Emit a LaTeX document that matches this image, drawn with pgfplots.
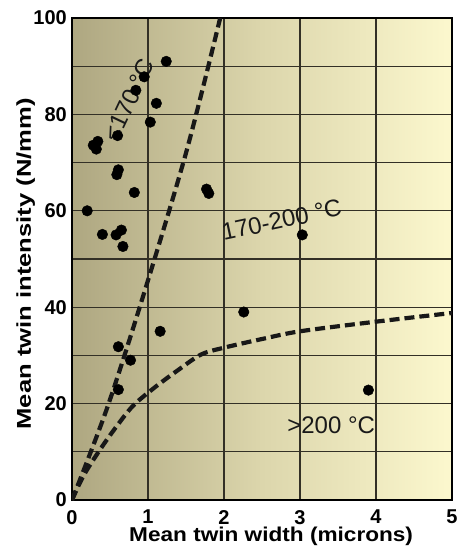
\documentclass[border=0pt]{standalone}
\usepackage{fontspec}
\setmainfont{Liberation Sans}
\usepackage{graphicx}
\usepackage{pgfplots}
\pgfplotsset{compat=1.18}

\definecolor{bgleft}{HTML}{AEA781}
\definecolor{bgmid}{HTML}{DCD6AC}
\definecolor{bgright}{HTML}{FCF8CE}
\definecolor{gridc}{HTML}{333026}
\definecolor{dashc}{HTML}{181818}

\begin{document}
\begin{tikzpicture}
\begin{axis}[
    name=ax,
    scale only axis,
    width=380pt, height=482pt,
    xmin=0, xmax=5, ymin=0, ymax=100,
    xtick={0,1,...,5},
    ytick={0,20,...,100},
    minor ytick={10,30,...,90},
    grid=both,
    major grid style={gridc, line width=1.3pt},
    minor grid style={gridc, line width=1.3pt},
    major tick length=0pt, minor tick length=0pt,
    axis line style={black, line width=1.8pt},
    axis background/.style={left color=bgleft, right color=bgright, middle color=bgmid},
    /pgf/number format/assume math mode=true,
    ticklabel style={font=\fontsize{20}{20}\selectfont\bfseries, inner sep=0pt},
    xticklabel style={yshift=-10pt},
    yticklabel style={xshift=-5pt},
    xlabel={\scalebox{1.13}[1]{Mean twin width (microns)}},
    ylabel={\scalebox{1.28}[1]{Mean twin intensity (N/mm)}},
    label style={font=\fontsize{20}{20}\selectfont\bfseries},
    xlabel style={at={(axis description cs:0.524,-0.0865)}, anchor=base},
    ylabel style={at={(axis description cs:-0.108,0.49)}, anchor=base, rotate=0},
]
% boundary lines
\addplot[dashc, line width=4.2pt, dash pattern=on 10pt off 5pt, smooth] coordinates {
    (0,0) (0.46,19) (0.93,42) (1.5,72) (1.95,100)
};
\addplot[dashc, line width=4.2pt, dash pattern=on 10pt off 5pt, smooth] coordinates {
    (0,0) (0.15,5) (0.35,10) (0.55,14.5) (0.8,19.5) (1.1,23.5) (1.4,27)
    (1.7,30.2) (2,31.6) (2.5,33.4) (3,35) (4,37) (5,38.8)
};
% measurements
\addplot[only marks, mark=*, mark size=5.3pt, black] coordinates {
    (0.20,60) (0.28,73.6) (0.34,74.4) (0.32,72.8)
    (0.60,75.6) (0.59,67.5) (0.61,68.5) (0.82,63.8)
    (0.40,55.1) (0.58,55.0) (0.65,56.0) (0.67,52.6)
    (0.84,85.0) (0.95,87.8) (1.11,82.3) (1.03,78.4) (1.24,91.0)
    (1.77,64.5) (1.80,63.6)
    (3.03,55.0) (2.26,39.0) (3.90,22.8)
    (1.16,35.0) (0.61,31.8) (0.77,29.0) (0.61,22.9)
};
\node[font=\fontsize{24}{24}\selectfont, text=black!90, rotate=64.6] at (axis cs:0.75,83) {<170 °C};
\node[font=\fontsize{24}{24}\selectfont, text=black!90, rotate=12] at (axis cs:2.76,58.1) {170-200 °C};
\node[font=\fontsize{24}{24}\selectfont, text=black!90] at (axis cs:3.41,15.5) {>200 °C};
\end{axis}
\pgfresetboundingbox
\path[use as bounding box] ([xshift=-72pt,yshift=-49pt]ax.south west) rectangle ([xshift=6pt,yshift=18pt]ax.north east);
\end{tikzpicture}
\end{document}
